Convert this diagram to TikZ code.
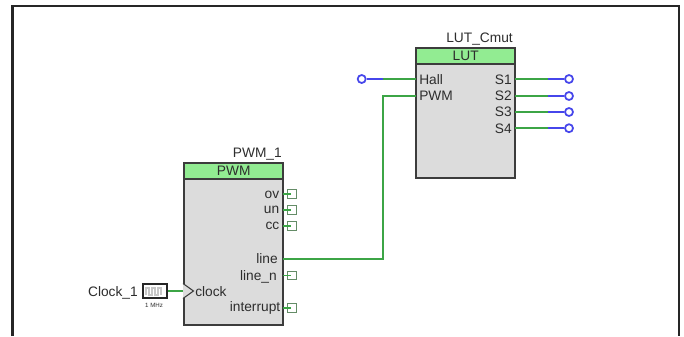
\documentclass[tikz,border=0pt]{standalone}
\usepackage{fontspec}
\setmainfont{Liberation Sans}
\definecolor{wiregreen}{RGB}{60,165,70}
\definecolor{pinblue}{RGB}{70,70,235}
\definecolor{hdr}{RGB}{146,236,146}
\definecolor{body}{RGB}{220,220,220}
\definecolor{edge}{RGB}{60,60,60}
\definecolor{txt}{RGB}{45,45,45}
\tikzset{
  lbl/.style={inner sep=0pt,text=txt,font=\fontsize{10.3}{12}\selectfont},
  lblr/.style={lbl,anchor=base east},
  lbll/.style={lbl,anchor=base west},
  blockbody/.style={draw=edge,line width=1.5pt,fill=body,minimum width=74.5pt,inner sep=0pt},
  blockhead/.style={draw=edge,line width=1.5pt,fill=hdr,minimum width=74.5pt,minimum height=12pt,inner sep=0pt,text=txt,font=\fontsize{10.3}{12}\selectfont},
  wire/.style={draw=wiregreen,line width=1.3pt},
  bluewire/.style={draw=pinblue,line width=1.3pt},
  termpin/.style={circle,draw=pinblue,line width=1.3pt,fill=white,minimum size=6pt,inner sep=0pt},
  nc/.style={draw=black!45!wiregreen!70,line width=.6pt,fill=white,minimum size=6.2pt,inner sep=0pt},
  frameedge/.style={draw=black!85,line width=1.7pt}
}
\begin{document}
\begin{tikzpicture}[x=0.75pt,y=-0.75pt]
\useasboundingbox (0,0) rectangle (684,336);
\fill[white] (0,0) rectangle (684,336);
\draw[frameedge] (12.5,336) -- (12.5,6) -- (679,6) -- (679,336);

% LUT block
\node[blockbody,anchor=north west,minimum height=97.5pt] (lutb) at (415,46.5) {};
\node[blockhead,anchor=north west] (luth) at (415,46.5) {LUT};
\node[lbl,anchor=base east] (lutn) at (513,42.8) {LUT\_Cmut};
% LUT pins
\node[lbll] (hall) at (419,84) {Hall};
\node[lbll] (pwmin) at (419,100.5) {PWM};
\node[lblr] (s1) at (512,84) {S1};
\node[lblr] (s2) at (512,100.5) {S2};
\node[lblr] (s3) at (512,116.5) {S3};
\node[lblr] (s4) at (512,133) {S4};
\coordinate (hallp) at (416,79);
\coordinate (pwmp) at (416,96);
\coordinate (s1p) at (515,79);
\coordinate (s2p) at (515,96);
\coordinate (s3p) at (515,112);
\coordinate (s4p) at (515,128.2);
\node[termpin] (thall) at (361.7,79) {};
\node[termpin] (ts1) at (569,79) {};
\node[termpin] (ts2) at (569,96) {};
\node[termpin] (ts3) at (569,112) {};
\node[termpin] (ts4) at (569,128.2) {};
\draw[bluewire] (thall) -- (383,79);
\draw[wire] (383,79) -- (hallp);
\foreach \a/\b/\y in {s1p/ts1/79,s2p/ts2/96,s3p/ts3/112,s4p/ts4/128.2}{
  \draw[wire] (\a) -- (548,\y);
  \draw[bluewire] (548,\y) -- (\b);
}

% PWM block
\node[blockbody,anchor=north west,minimum height=121.5pt] (pwmb) at (183,161.5) {};
\node[blockhead,anchor=north west] (pwmh) at (183,161.5) {PWM};
\node[lbl,anchor=base east] (pwmn) at (282,157) {PWM\_1};
\node[lblr] (ov) at (279.5,198) {ov};
\node[lblr] (un) at (279.5,213.5) {un};
\node[lblr] (cc) at (279.5,229.5) {cc};
\node[lblr] (line) at (278,263.5) {line};
\node[lblr] (linen) at (277,280) {line\_n};
\node[lblr] (intr) at (280.5,311.5) {interrupt};
\node[lbll] (clk) at (195,296.5) {clock};
\coordinate (linep) at (283,259);
\coordinate (clkp) at (184,291);
\foreach \n/\y in {a/194,b/210,c/226,d/275.5,e/308}{
  \coordinate (p\n) at (283,\y);
  \node[nc] (nc\n) at (292,\y) {};
  \draw[wire,line width=1pt] (p\n) -- (291,\y);
}
\draw[wire] (linep) -- (382.7,259) |- (pwmp);

% Clock
\node[draw=black!85,line width=1.4pt,fill=white,minimum width=18.5pt,minimum height=10.5pt,inner sep=0pt] (clock) at (155,291) {};
\draw[black!22,line width=.8pt] (146,295) -- ++(0,-7) -- ++(3,0) -- ++(0,7) -- ++(3,0) -- ++(0,-7) -- ++(3,0) -- ++(0,7) -- ++(3,0) -- ++(0,-7) -- ++(3,0) -- ++(0,7);
\node[lbl,anchor=base east] (clkn) at (138,296.5) {Clock\_1};
\node[inner sep=0pt,text=txt,font=\fontsize{4.6}{5}\selectfont] (mhz) at (154,305) {1 MHz};
\draw[wire] (clock) -- (clkp);
\draw[draw=edge,line width=.8pt,fill=body] (183,283.5) -- (193.5,291) -- (183,298.5);
\end{tikzpicture}
\end{document}
